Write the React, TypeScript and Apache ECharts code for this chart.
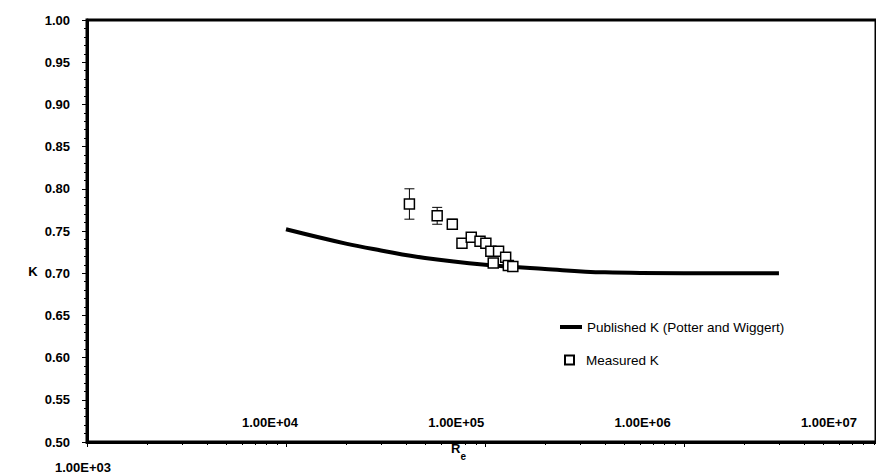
import React, { useEffect, useRef } from "react";
import * as echarts from "echarts";

const FONT = "'Liberation Sans', Arial, sans-serif";

// Published curve (Potter and Wiggert)
const publishedRe = [1e4, 2e4, 3e4, 5e4, 1e5, 2e5, 4e5, 1e6, 3e6];
const publishedK = [0.752, 0.735, 0.727, 0.718, 0.71, 0.705, 0.701, 0.7, 0.7];

// Measured values
const measuredRe = [4.17e4, 5.75e4, 6.85e4, 7.66e4, 8.53e4, 9.44e4, 1.01e5, 1.07e5, 1.17e5, 1.1e5, 1.27e5, 1.31e5, 1.38e5];
const measuredK = [0.782, 0.768, 0.758, 0.7355, 0.7426, 0.738, 0.7355, 0.726, 0.726, 0.712, 0.719, 0.709, 0.708];
const measuredErr = [0.018, 0.01, 0.006, 0.003, 0.003, 0.003, 0.003, 0.003, 0.003, 0.003, 0.003, 0.003, 0.003];

// Axis texts
const xTickLabels = ["1.00E+03", "1.00E+04", "1.00E+05", "1.00E+06", "1.00E+07"];
const yTitle = "K";
const publishedName = "Published K (Potter and Wiggert)";
const measuredName = "Measured K";

export default function App() {
  const ref = useRef<HTMLDivElement>(null);

  useEffect(() => {
    if (!ref.current) return;
    const chart = echarts.init(ref.current, null, { renderer: "svg" });

    // plot area is cut by the right edge of the picture, a little before 1e7
    const xMaxLog = 3 + 789 / 199;
    const xMax = Math.pow(10, xMaxLog);

    const minorLog: number[] = [];
    for (let d = 3; d < 7; d++) {
      for (let m = 2; m <= 9; m++) {
        const v = d + Math.log10(m);
        if (v <= xMaxLog) minorLog.push(v);
      }
    }

    const errData = measuredRe.map((r, i) => [r, measuredK[i], measuredK[i] - measuredErr[i], measuredK[i] + measuredErr[i]]);

    const labelGraphics = xTickLabels.map((t, i) => ({
      type: "text",
      x: i === 0 ? 83 : 270 + (i - 1) * 186.3,
      y: i === 0 ? 467 : 422,
      style: {
        text: t,
        font: `bold 13px ${FONT}`,
        fill: "#000",
        align: "center",
        verticalAlign: "middle",
      },
    }));

    const option: any = {
      animation: false,
      grid: {
        left: 87,
        top: 20,
        right: 0,
        bottom: 32,
        show: true,
        borderColor: "#000",
        borderWidth: 3,
        backgroundColor: "transparent",
      },
      xAxis: [
        {
          type: "log",
          logBase: 10,
          min: 1000,
          max: xMax,
          axisLine: { lineStyle: { color: "#000", width: 3 } },
          axisTick: { show: true, length: 5, lineStyle: { color: "#000", width: 1 } },
          axisLabel: { show: false },
          splitLine: { show: false },
          minorTick: { show: false },
        },
        {
          type: "value",
          min: 3,
          max: xMaxLog,
          position: "bottom",
          axisLine: { show: false },
          axisTick: { show: true, length: 3, customValues: minorLog, lineStyle: { color: "#000", width: 1 } },
          axisLabel: { show: false },
          splitLine: { show: false },
        },
      ],
      yAxis: {
        type: "value",
        min: 0.5,
        max: 1.0,
        interval: 0.05,
        axisLine: { show: true, lineStyle: { color: "#000", width: 3 } },
        axisTick: { show: true, length: 5, lineStyle: { color: "#000", width: 1 } },
        minorTick: { show: true, splitNumber: 5, length: 3, lineStyle: { color: "#000", width: 1 } },
        axisLabel: {
          formatter: (v: number) => v.toFixed(2),
          fontFamily: FONT,
          fontWeight: "bold",
          fontSize: 13,
          color: "#000",
          margin: 17,
        },
        splitLine: { show: false },
      },
      legend: [
        {
          data: [publishedName],
          left: 555,
          top: 315,
          icon: "rect",
          itemWidth: 22,
          itemHeight: 4,
          textStyle: { fontFamily: FONT, fontSize: 13.5, color: "#000" },
        },
        {
          data: [measuredName],
          left: 559,
          top: 348,
          icon: "rect",
          itemWidth: 9,
          itemHeight: 9,
          textStyle: { fontFamily: FONT, fontSize: 13.5, color: "#000", padding: [0, 0, 0, 7] },
        },
      ],
      graphic: [
        ...labelGraphics,
        {
          type: "text",
          x: 33,
          y: 271,
          style: {
            text: yTitle,
            font: `bold 13px ${FONT}`,
            fill: "#000",
            align: "center",
            verticalAlign: "middle",
          },
        },
        {
          type: "text",
          x: 451,
          y: 442,
          style: {
            text: "{r|R}{s|e}",
            fill: "#000",
            rich: {
              r: { font: `bold 13px ${FONT}`, fill: "#000", verticalAlign: "top" },
              s: { font: `bold 10px ${FONT}`, fill: "#000", padding: [9, 0, 0, 0], verticalAlign: "top" },
            },
          },
        },
      ],
      series: [
        {
          name: publishedName,
          type: "line",
          data: publishedRe.map((r, i) => [r, publishedK[i]]),
          smooth: 0.4,
          showSymbol: false,
          symbol: "none",
          lineStyle: { color: "#000", width: 4 },
          itemStyle: { color: "#000" },
          z: 2,
        },
        {
          name: "err",
          type: "custom",
          data: errData,
          encode: { x: 0, y: [1, 2, 3] },
          z: 3,
          renderItem: (params: any, api: any) => {
            const x = api.value(0);
            const lo = api.value(2);
            const hi = api.value(3);
            const pHi = api.coord([x, hi]);
            const pLo = api.coord([x, lo]);
            const w = 5;
            const st = { stroke: "#000", lineWidth: 1 };
            return {
              type: "group",
              children: [
                { type: "line", shape: { x1: pHi[0], y1: pHi[1], x2: pLo[0], y2: pLo[1] }, style: st },
                { type: "line", shape: { x1: pHi[0] - w, y1: pHi[1], x2: pHi[0] + w, y2: pHi[1] }, style: st },
                { type: "line", shape: { x1: pLo[0] - w, y1: pLo[1], x2: pLo[0] + w, y2: pLo[1] }, style: st },
              ],
            };
          },
        },
        {
          name: measuredName,
          type: "scatter",
          data: measuredRe.map((r, i) => [r, measuredK[i]]),
          symbol: "rect",
          symbolSize: 10,
          itemStyle: { color: "#fff", borderColor: "#000", borderWidth: 1.5, opacity: 1 },
          z: 4,
        },
      ],
    };

    chart.setOption(option);
    return () => chart.dispose();
  }, []);

  return (
    <div
      ref={ref}
      style={{ position: "fixed", left: 0, top: 0, width: 876, height: 474, background: "#fff" }}
    />
  );
}
